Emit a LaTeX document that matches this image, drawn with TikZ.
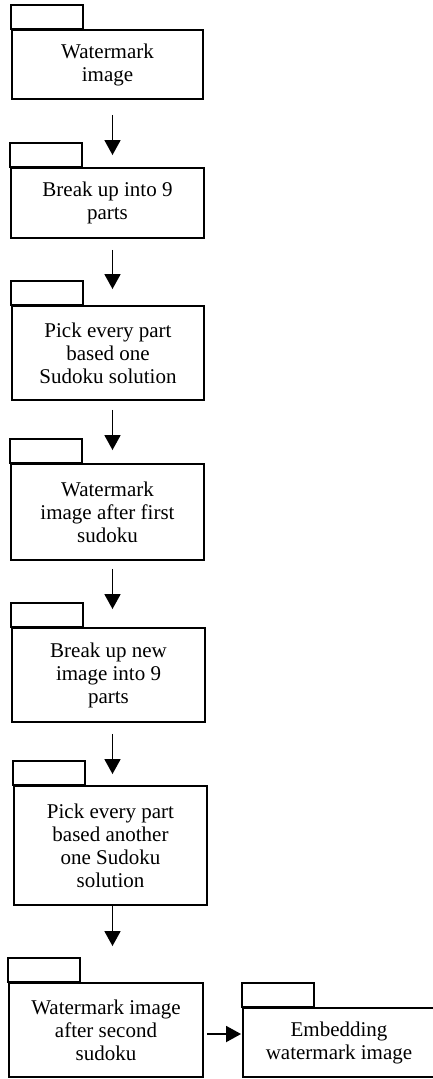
\documentclass[tikz,border=0pt]{standalone}
\usepackage{fontspec}
\setmainfont{Liberation Serif}
\usetikzlibrary{arrows.meta, positioning}
\tikzset{
  pkgbox/.style={draw, line width=1.9pt, inner sep=0pt, align=center,
    font=\fontsize{21}{23}\selectfont},
  arr/.style={line width=1.8pt, -{Triangle[width=16pt,length=15pt]}}
}
\begin{document}
\begin{tikzpicture}[x=1pt, y=-1pt]
  \useasboundingbox (0,0) rectangle (433,1079);
  \coordinate (ax) at (112.5,0);
  % Cac khoi
  \node[pkgbox, minimum width=191pt, minimum height=69pt] (wm) at (107.5,64.5) {Watermark\\image};
  \node[pkgbox, minimum width=193pt, minimum height=70pt] (brk) at (107.5,203) {Break up into 9\\parts};
  \node[pkgbox, minimum width=192pt, minimum height=94pt] (pick) at (108,353) {Pick every part\\based one\\Sudoku solution};
  \node[pkgbox, minimum width=193pt, minimum height=96pt] (wmf) at (107.5,512) {Watermark\\image after first\\sudoku};
  \node[pkgbox, minimum width=193pt, minimum height=94pt] (brkn) at (108.5,675) {Break up new\\image into 9\\parts};
  \node[pkgbox, minimum width=193pt, minimum height=119pt] (picka) at (110.5,845.5) {Pick every part\\based another\\one Sudoku\\solution};
  \node[pkgbox, minimum width=194pt, minimum height=94pt] (wms) at (106,1030) {Watermark image\\after second\\sudoku};
  \node[pkgbox, minimum width=192pt, minimum height=69pt] (emb) at (339,1042.5) {Embedding\\watermark image};
  % Tab tren moi khoi
  \foreach \b in {wm,brk,pick,wmf,brkn,picka,wms,emb}
    \draw[line width=1.9pt] (\b.north west) rectangle ++(72,-24.5);
  % Mui ten
  \draw[arr, shorten <=15pt, shorten >=12pt] (wm.south -| ax) -- (brk.north -| ax);
  \draw[arr, shorten <=11pt, shorten >=16pt] (brk.south -| ax) -- (pick.north -| ax);
  \draw[arr, shorten <=9pt, shorten >=13pt] (pick.south -| ax) -- (wmf.north -| ax);
  \draw[arr, shorten <=8pt, shorten >=18pt] (wmf.south -| ax) -- (brkn.north -| ax);
  \draw[arr, shorten <=11pt, shorten >=11pt] (brkn.south -| ax) -- (picka.north -| ax);
  \draw[arr, shorten >=36pt] (picka.south -| ax) -- (wms.north -| ax);
  \draw[arr, shorten <=3pt, shorten >=1pt] ([yshift=-4pt]wms.east) -- ([yshift=-4pt]wms.east -| emb.west);
\end{tikzpicture}
\end{document}
